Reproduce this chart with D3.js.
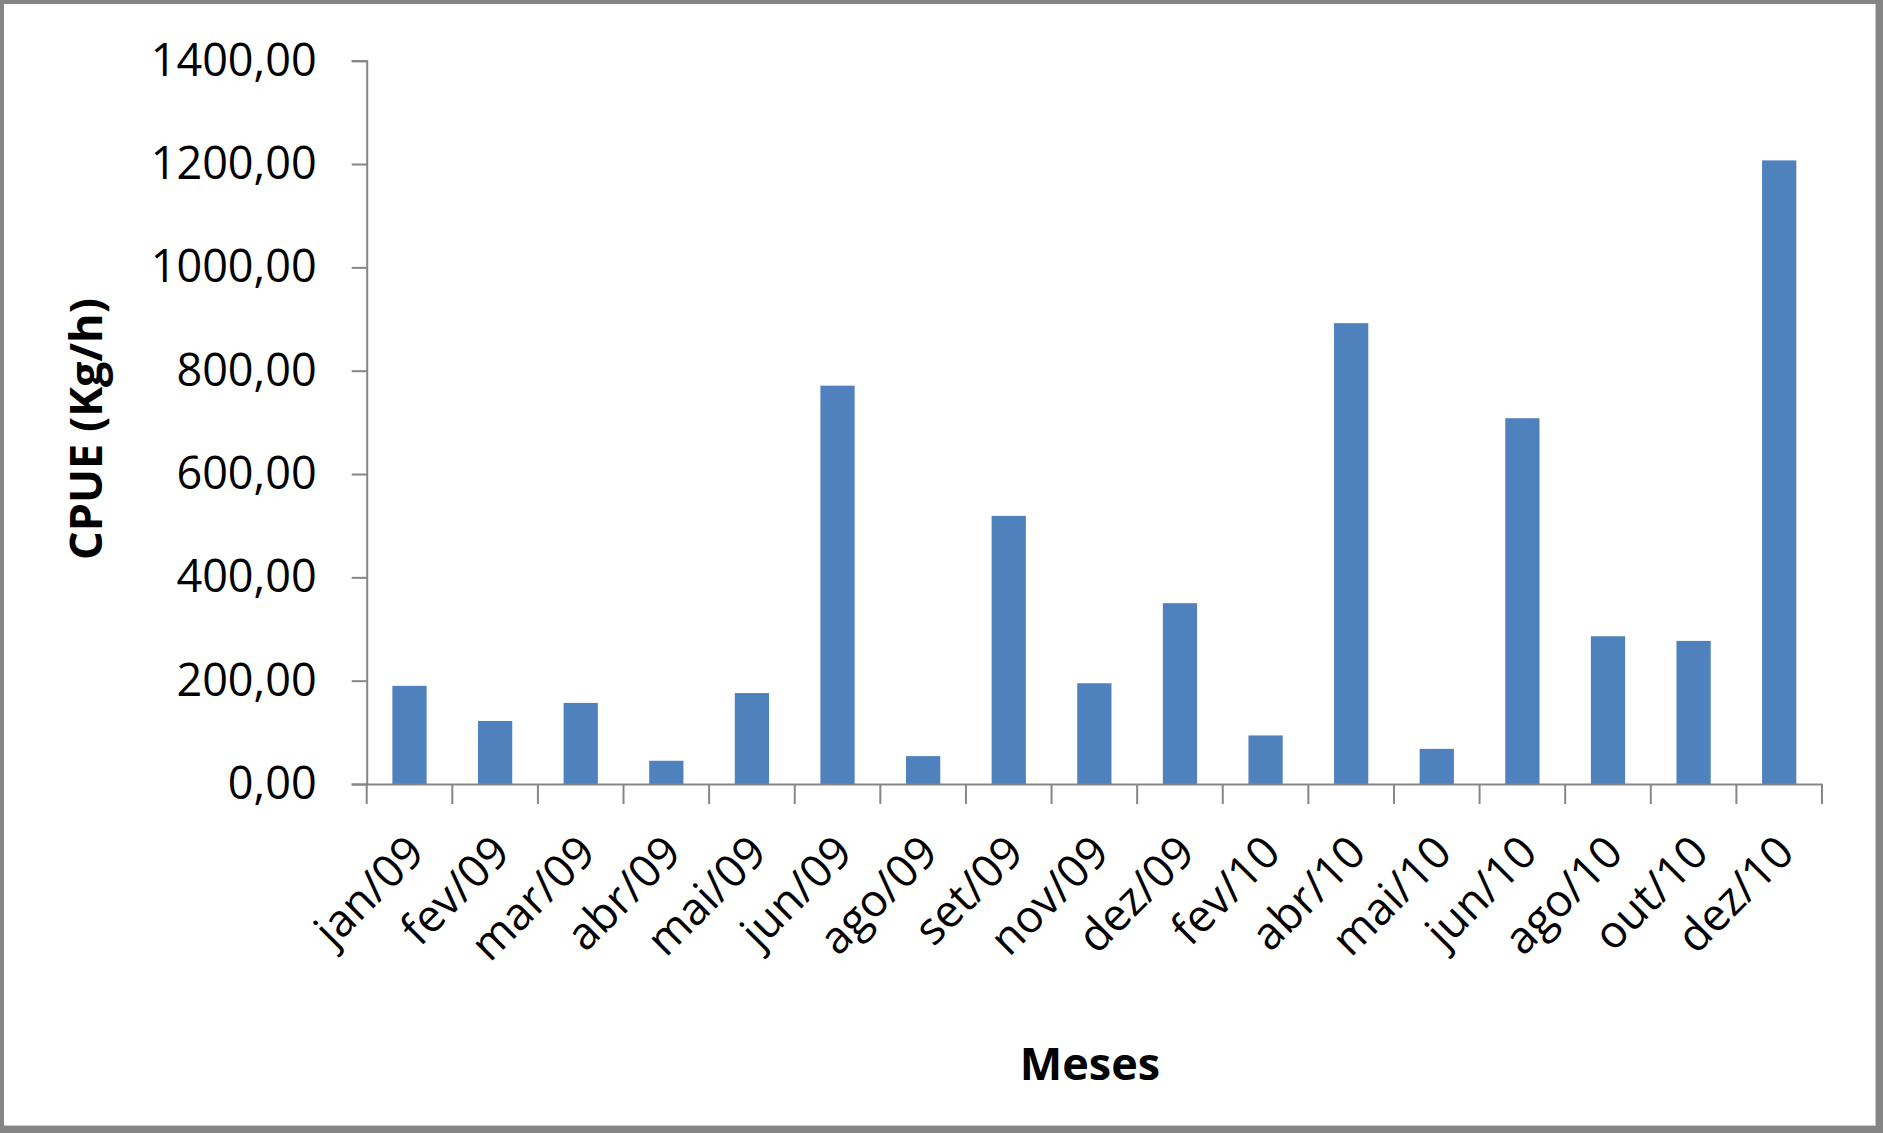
<!DOCTYPE html>
<html>
<head>
<meta charset="utf-8">
<script src="https://cdn.jsdelivr.net/npm/d3@7"></script>
<style>
  html, body { margin: 0; padding: 0; background: #fff; }
  svg { display: block; }
  text { font-family: "Open Sans", "Noto Sans", sans-serif; fill: #000; }
</style>
</head>
<body>
<svg id="chart" width="1883" height="1133"></svg>
<script>
const categories = ["jan/09","fev/09","mar/09","abr/09","mai/09","jun/09","ago/09","set/09","nov/09","dez/09","fev/10","abr/10","mai/10","jun/10","ago/10","out/10","dez/10"];
const cpue = [190, 122, 157, 45, 176, 771, 54, 519, 195, 350, 94, 892, 68, 708, 286, 277, 1207];
const yTicks = [0, 200, 400, 600, 800, 1000, 1200, 1400];
const yTitle = "CPUE (Kg/h)";
const xTitle = "Meses";

(function () {
const W = 1883, H = 1133;
const svg = d3.select("#chart");

// frame
svg.append("rect").attr("x", 0).attr("y", 0).attr("width", W).attr("height", H).attr("fill", "#858585");
svg.append("rect").attr("x", 4).attr("y", 4).attr("width", W - 11).attr("height", H - 11).attr("fill", "#c8c8c8");
svg.append("rect").attr("x", 4).attr("y", 4).attr("width", W - 12).attr("height", H - 12).attr("fill", "#fff");

const pLeft = 366.7, pRight = 1822, pTop = 60.7, pBottom = 784;

const x = d3.scaleBand().domain(categories).range([pLeft, pRight]).paddingInner(0.6).paddingOuter(0.3);
const y = d3.scaleLinear().domain([0, 1400]).range([pBottom, pTop]);

const locale = d3.formatLocale({decimal: ",", thousands: "", grouping: [3], currency: ["", ""]});
const fmt = locale.format(".2f");

// bars
svg.append("g").selectAll("rect").data(cpue).join("rect")
  .attr("x", (d, i) => x(categories[i]))
  .attr("y", d => y(d))
  .attr("width", x.bandwidth())
  .attr("height", d => y(0) - y(d))
  .attr("fill", "#4F81BD");

// y axis
const yAxis = svg.append("g").attr("transform", `translate(${pLeft},0)`)
  .call(d3.axisLeft(y).tickValues(yTicks).tickFormat(fmt).tickSize(15).tickPadding(35));
yAxis.select(".domain").attr("stroke", "#868686").attr("stroke-width", 2);
yAxis.selectAll(".tick line").attr("stroke", "#868686").attr("stroke-width", 2);
yAxis.selectAll(".tick text").style("font-size", "45px").style("font-family", "'Open Sans', sans-serif").attr("fill", "#000");

// x axis line
const xAxis = svg.append("g").attr("transform", `translate(0,${pBottom})`)
  .call(d3.axisBottom(x).tickSize(0).tickPadding(0));
xAxis.select(".domain").attr("stroke", "#868686").attr("stroke-width", 2);
xAxis.selectAll(".tick text")
  .style("font-size", "45px").style("font-family", "'Open Sans', sans-serif").attr("fill", "#000")
  .attr("text-anchor", "end")
  .attr("dy", "0.35em")
  .attr("y", 0)
  .attr("transform", "translate(6,60) rotate(-45)");

// boundary ticks on x axis
const step = x.step();
const boundaries = d3.range(categories.length + 1).map(i => x.range()[0] + i * step);
svg.append("g").selectAll("line").data(boundaries).join("line")
  .attr("x1", d => d).attr("x2", d => d)
  .attr("y1", pBottom).attr("y2", pBottom + 20)
  .attr("stroke", "#868686").attr("stroke-width", 2);

// titles
svg.append("text")
  .attr("transform", `translate(102,429) rotate(-90)`)
  .attr("text-anchor", "middle")
  .style("font-size", "45px").style("font-weight", "bold")
  .text(yTitle);

svg.append("text")
  .attr("x", 1090).attr("y", 1080)
  .attr("text-anchor", "middle")
  .style("font-size", "45px").style("font-weight", "bold")
  .text(xTitle);
})();
</script>
</body>
</html>
